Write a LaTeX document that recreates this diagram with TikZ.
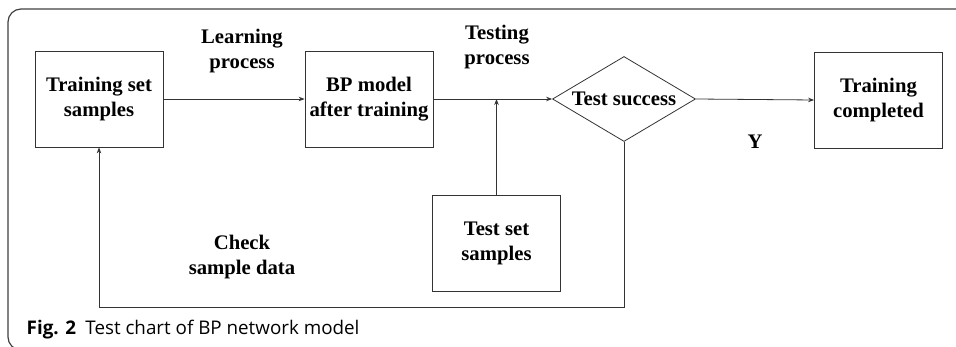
\documentclass[tikz,border=0pt]{standalone}
\usepackage{fontspec}
\setmainfont{Liberation Serif}
\newfontfamily\capfont{Open Sans}
\usetikzlibrary{
    arrows.meta,
    shapes,
    calc,
    positioning
}

\begin{document}
\begin{tikzpicture}[x=1pt, y=-1pt,
        line width=0.8pt,
        every node/.style={font=\fontsize{20.7}{25}\selectfont\bfseries, align=center},
        stage/.style={draw=black!80, minimum width=128pt, minimum height=96pt, inner sep=0pt},
        flow/.style={draw=black!80, -{Stealth[length=6pt, width=4.5pt]}}]
                                \useasboundingbox (0, 0) rectangle (956, 347);
                                \draw[black!75, line width=1.2pt, rounded corners=13pt] (956, 9) -- (8, 9) -- (8, 350) -- (40, 350);

                                \node[stage] (train) at (99, 99) {Training set\\samples};
                                \node[stage] (bpmodel) at (369, 99) {BP model\\after training};
                                \node[draw=black!80, diamond, aspect=1.68, minimum width=143pt, minimum height=85pt, inner sep=0pt] (success) at (624, 99) {Test success};
                                \node[stage] (done) at (878.5, 100) {Training\\completed};
                                \node[stage] (testset) at (496.5, 243) {Test set\\samples};

                                \node (learn) at (242, 51) {Learning\\process};
                                \node (testing) at (497, 47) {Testing\\process};
                                \node (yes) at (755, 142) {Y};
                                \node (check) at (242, 257) {Check\\sample data};
                                \node[anchor=west, font=\capfont\fontsize{18.8}{22}\selectfont] (caption) at (23, 330) {\textbf{Fig. 2}\enspace Test chart of BP network model};

                                \coordinate (join) at (testset.north |- success.west);
                                \coordinate (loop) at (624, 307);

                                \draw[flow] (train.east) -- (bpmodel.west);
                                \draw[flow] (bpmodel.east) -- (success.west);
                                \draw[flow] (testset.north) -- (join);
                                \draw[flow] (success.east) -- (done.west);
                                \draw[flow] (success.south) -- (loop) -| (train.south);
                            \end{tikzpicture}
\end{document}
